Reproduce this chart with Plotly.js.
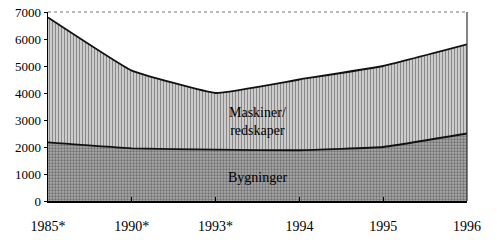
<!DOCTYPE html>
<html>
<head>
<meta charset="utf-8">
<script src="https://cdn.plot.ly/plotly-3.0.1.min.js"></script>
<style>html,body{margin:0;padding:0;background:#fff;}#chart{width:497px;height:240px;}</style>
</head>
<body>
<div id="chart"></div>
<script>
var years = ["1985*", "1990*", "1993*", "1994", "1995", "1996"];
var bygninger = [2170, 1950, 1900, 1880, 2000, 2500];
var maskiner = [4630, 2880, 2100, 2620, 3000, 3300];
var yTicks = [0, 1000, 2000, 3000, 4000, 5000, 6000, 7000];

var serif = "Liberation Serif";

var traces = [
  {
    x: years, y: bygninger, type: "scatter", mode: "lines", stackgroup: "one",
    line: {color: "#111", width: 1.8, shape: "spline", smoothing: 0.3},
    fillcolor: "#9a9a9a",
    fillpattern: {shape: ".", fgcolor: "#6e6e6e", bgcolor: "#ababab", size: 3, solidity: 0.45},
    hoverinfo: "skip"
  },
  {
    x: years, y: maskiner, type: "scatter", mode: "lines", stackgroup: "one",
    line: {color: "#111", width: 1.8, shape: "spline", smoothing: 0.3},
    fillcolor: "#c8c8c8",
    fillpattern: {shape: "|", fgcolor: "#888888", bgcolor: "#d4d4d4", size: 3, solidity: 0.4},
    hoverinfo: "skip"
  }
];

var layout = {
  width: 497, height: 240,
  margin: {l: 48, r: 30, t: 12, b: 39},
  paper_bgcolor: "#fff", plot_bgcolor: "#fff",
  showlegend: false,
  font: {family: serif, size: 13, color: "#000"},
  xaxis: {
    type: "category", range: [0, 5], showgrid: false, zeroline: false,
    showline: true, linecolor: "#000", linewidth: 1.5,
    ticks: "inside", ticklen: 4, tickcolor: "#000",
    ticklabelstandoff: 12,
    tickfont: {family: serif, size: 14, color: "#000"}
  },
  yaxis: {
    range: [0, 7000], tickvals: yTicks, ticktext: yTicks.map(String),
    showgrid: false, zeroline: false,
    showline: true, linecolor: "#000", linewidth: 1.5,
    ticks: "outside", ticklen: 3, tickcolor: "#000",
    tickfont: {family: serif, size: 13, color: "#000"}
  },
  shapes: [
    {type: "line", xref: "paper", yref: "paper", x0: 0, x1: 1, y0: 1, y1: 1,
     line: {color: "#777", width: 1.2, dash: "dot"}},
    {type: "line", xref: "paper", yref: "paper", x0: 1, x1: 1, y0: 0, y1: 1,
     line: {color: "#333", width: 1.2}}
  ],
  annotations: [
    {x: 2.5, y: 2950, xref: "x", yref: "y", text: "Maskiner/<br>redskaper", showarrow: false,
     font: {family: serif, size: 14, color: "#000"}},
    {x: 2.5, y: 870, xref: "x", yref: "y", text: "Bygninger", showarrow: false,
     font: {family: serif, size: 14, color: "#000"}}
  ]
};

Plotly.newPlot("chart", traces, layout, {staticPlot: true, displayModeBar: false});
</script>
</body>
</html>
